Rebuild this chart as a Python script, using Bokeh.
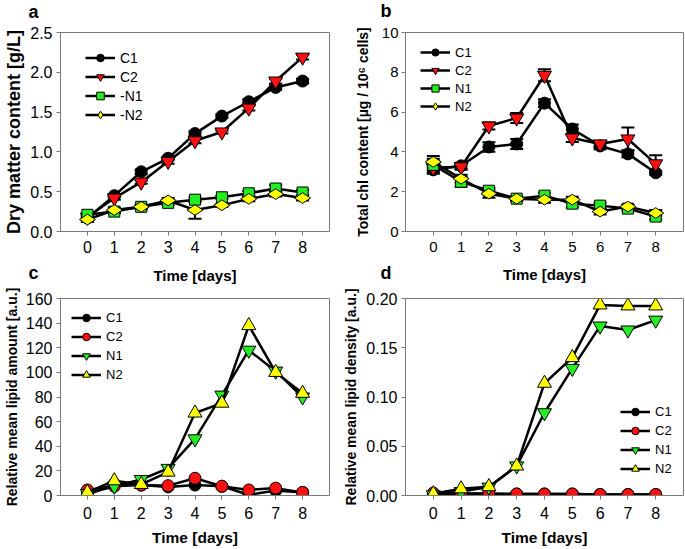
from bokeh.plotting import figure
from bokeh.layouts import gridplot
from bokeh.models import (ColumnDataSource, Whisker, TeeHead, Legend, LegendItem,
                          Label, Range1d, FixedTicker, NumeralTickFormatter)
from bokeh.embed import file_html
from bokeh.resources import INLINE
import math

FONT = "Liberation Sans"

days = [0, 1, 2, 3, 4, 5, 6, 7, 8]

# Panel a: dry matter content [g/L]
a_C1 = [0.17, 0.45, 0.75, 0.92, 1.23, 1.45, 1.63, 1.81, 1.89]
a_C1_err = [0.03, 0.02, 0.03, 0.02, 0.03, 0.02, 0.03, 0.03, 0.03]
a_C2 = [0.18, 0.42, 0.62, 0.88, 1.14, 1.25, 1.55, 1.89, 2.19]
a_C2_err = [0.02, 0.02, 0.02, 0.03, 0.03, 0.02, 0.03, 0.03, 0.03]
a_N1 = [0.21, 0.25, 0.31, 0.36, 0.40, 0.43, 0.48, 0.54, 0.49]
a_N1_err = [0.02, 0.02, 0.02, 0.03, 0.03, 0.02, 0.03, 0.04, 0.03]
a_N2 = [0.15, 0.27, 0.31, 0.39, 0.27, 0.33, 0.41, 0.47, 0.42]
a_N2_err = [0.03, 0.03, 0.03, 0.03, 0.11, 0.02, 0.03, 0.03, 0.03]

# Panel b: total chl content
b_C1 = [3.1, 3.3, 4.25, 4.4, 6.45, 5.15, 4.3, 3.9, 2.95]
b_C1_err = [0.2, 0.15, 0.24, 0.25, 0.19, 0.23, 0.17, 0.17, 0.1]
b_C2 = [3.2, 3.25, 5.3, 5.7, 7.85, 4.7, 4.4, 4.65, 3.4]
b_C2_err = [0.25, 0.15, 0.18, 0.25, 0.3, 0.2, 0.15, 0.57, 0.43]
b_N1 = [3.35, 2.5, 2.05, 1.65, 1.8, 1.4, 1.3, 1.15, 0.75]
b_N1_err = [0.3, 0.25, 0.15, 0.1, 0.15, 0.2, 0.15, 0.1, 0.15]
b_N2 = [3.5, 2.65, 1.9, 1.65, 1.6, 1.6, 1.0, 1.25, 0.93]
b_N2_err = [0.3, 0.2, 0.2, 0.1, 0.15, 0.15, 0.15, 0.1, 0.15]

# Panel c: relative mean lipid amount
c_C1 = [0.5, 9.5, 8.5, 7.0, 8.5, 7.5, 0.5, 4.0, 2.5]
c_C2 = [4.5, 7.5, 8.5, 8.0, 14.0, 7.5, 4.5, 6.0, 2.5]
c_N1 = [1.5, 7.5, 13.0, 22.0, 46.0, 81.5, 118.0, 101.0, 80.0]
c_N2 = [2.5, 12.0, 9.0, 19.0, 67.0, 75.0, 138.0, 100.0, 83.0]

# Panel d: relative mean lipid density
d_C1 = [0.0005, 0.002, 0.002, 0.0015, 0.0015, 0.0015, 0.001, 0.001, 0.001]
d_C2 = [0.0025, 0.002, 0.0018, 0.0015, 0.0015, 0.0015, 0.001, 0.001, 0.001]
d_N1 = [0.0007, 0.004, 0.0085, 0.030, 0.084, 0.129, 0.172, 0.168, 0.178]
d_N2 = [0.0017, 0.0068, 0.009, 0.030, 0.114, 0.140, 0.1935, 0.1925, 0.1925]

a_ticks = [0.0, 0.5, 1.0, 1.5, 2.0, 2.5]
b_ticks = [0, 2, 4, 6, 8, 10]
c_ticks = [0, 20, 40, 60, 80, 100, 120, 140, 160]
d_ticks = [0.0, 0.05, 0.10, 0.15, 0.20]

RED = "#ff1010"
GREEN = "#22ee22"
YELLOW = "#ffff00"

LEFT_W, RIGHT_W = 340, 344
TOP_H, BOT_H = 286, 262


def make_fig(width, height, mbl, mbr, mbt, mbb, y_end, ticks, fmt, ylabel,
             tick_fs, ylab_fs, xlab_fs, ylab_standoff, tick_standoff_y,
             xtick_standoff, xlab_standoff):
    p = figure(width=width, height=height, output_backend="svg", toolbar_location=None,
               x_range=Range1d(-1, 9), y_range=Range1d(0, y_end),
               min_border_left=mbl, min_border_right=mbr,
               min_border_top=mbt, min_border_bottom=mbb)
    p.title.visible = False
    p.xgrid.visible = False
    p.ygrid.visible = False
    p.outline_line_color = "#7a7a7a"
    p.outline_line_width = 1
    for ax in (p.xaxis[0], p.yaxis[0]):
        ax.axis_line_color = "#7a7a7a"
        ax.major_tick_line_color = "#7a7a7a"
        ax.major_tick_in = 0
        ax.major_tick_out = 4
        ax.minor_tick_line_color = None
        ax.major_label_text_font = FONT
        ax.major_label_text_color = "black"
        ax.major_label_text_font_size = tick_fs
        ax.axis_label_text_font = FONT
        ax.axis_label_text_font_style = "bold"
        ax.axis_label_text_color = "black"
    p.xaxis.ticker = FixedTicker(ticks=days)
    p.xaxis.axis_label = "Time [days]"
    p.xaxis.axis_label_text_font_size = xlab_fs
    p.xaxis.major_label_standoff = xtick_standoff
    p.xaxis.axis_label_standoff = xlab_standoff
    p.yaxis.ticker = FixedTicker(ticks=ticks)
    p.yaxis.formatter = NumeralTickFormatter(format=fmt)
    p.yaxis.axis_label = ylabel
    p.yaxis.axis_label_text_font_size = ylab_fs
    p.yaxis.major_label_standoff = tick_standoff_y
    p.yaxis.axis_label_standoff = ylab_standoff
    return p


def add_series(p, y, err, marker, color, size, angle=0.0):
    data = dict(x=days, y=y)
    if err is not None:
        data["lo"] = [v - e for v, e in zip(y, err)]
        data["hi"] = [v + e for v, e in zip(y, err)]
    src = ColumnDataSource(data)
    if err is not None:
        w = Whisker(source=src, base="x", lower="lo", upper="hi", dimension="height",
                    line_color="black", line_width=2, level="underlay",
                    upper_head=TeeHead(size=13, line_color="black", line_width=2),
                    lower_head=TeeHead(size=13, line_color="black", line_width=2))
        p.add_layout(w)
    ln = p.line("x", "y", source=src, line_color="black", line_width=2.5)
    sc = p.scatter("x", "y", source=src, marker=marker, size=size, angle=angle,
                   fill_color=color, line_color="black", line_width=1)
    return [ln, sc]


def add_legend(p, items, vx, vy, gh, fs):
    lg = Legend(items=[LegendItem(label=t, renderers=r) for t, r in items],
                location=(vx, vy), orientation="vertical")
    lg.glyph_width = 30
    lg.glyph_height = gh
    lg.spacing = 0
    lg.padding = 0
    lg.margin = 0
    lg.label_standoff = 5
    lg.label_height = gh - 1
    lg.border_line_color = None
    lg.background_fill_alpha = 0
    lg.label_text_font = FONT
    lg.label_text_font_size = fs
    lg.label_text_color = "black"
    p.add_layout(lg)


def letter(p, txt, x, y, side):
    p.add_layout(Label(x=x, y=y, x_units="screen", y_units="screen", text=txt,
                       text_font=FONT, text_font_style="bold", text_font_size="18px",
                       text_color="black", text_baseline="alphabetic", text_align="left"),
                 side)


ROT = math.pi / 2

# ---- panel a
pa = make_fig(LEFT_W, TOP_H, 57, 11, 32, 55, 2.5, a_ticks, "0.0",
              "Dry matter content [g/L]", "16px", "18px", "15px", 3, 4, 5, 11)
ra1 = add_series(pa, a_C1, a_C1_err, "circle", "black", 12)
ra2 = add_series(pa, a_C2, a_C2_err, "inverted_triangle", RED, 14)
ra3 = add_series(pa, a_N1, a_N1_err, "square", GREEN, 11)
ra4 = add_series(pa, a_N2, a_N2_err, "diamond", YELLOW, 16, ROT)
add_legend(pa, [("C1", ra1), ("C2", ra2), ("-N1", ra3), ("-N2", ra4)], 25, 107, 19, "14px")
letter(pa, "a", -32, 21, "above")
letter(pa, "c", -301, -41, "right")

# ---- panel b
pb = make_fig(RIGHT_W, TOP_H, 65, 1, 32, 55, 10, b_ticks, "0",
              "Total chl content [µg / 10⁶ cells]", "15px", "14px", "15px", 8, 3, 6, 11)
rb1 = add_series(pb, b_C1, b_C1_err, "circle", "black", 12)
rb2 = add_series(pb, b_C2, b_C2_err, "inverted_triangle", RED, 14)
rb3 = add_series(pb, b_N1, b_N1_err, "square", GREEN, 11)
rb4 = add_series(pb, b_N2, b_N2_err, "diamond", YELLOW, 16, ROT)
add_legend(pb, [("C1", rb1), ("C2", rb2), ("N1", rb3), ("N2", rb4)], 15, 116, 18, "13px")
letter(pb, "b", -25, 22, "above")
letter(pb, "d", 40, -41, "left")

# ---- panel c
pc = make_fig(LEFT_W, BOT_H, 57, 6, 12, 53, 160, c_ticks, "0",
              "Relative mean lipid amount [a.u.]", "16px", "14px", "15.5px", 3, 4, 7, 7)
rc1 = add_series(pc, c_C1, None, "circle", "black", 12)
rc2 = add_series(pc, c_C2, None, "circle", RED, 12)
rc3 = add_series(pc, c_N1, None, "inverted_triangle", GREEN, 14)
rc4 = add_series(pc, c_N2, None, "triangle", YELLOW, 14)
add_legend(pc, [("C1", rc1), ("C2", rc2), ("N1", rc3), ("N2", rc4)], 11, 111, 19, "13px")

# ---- panel d
pd = make_fig(RIGHT_W, BOT_H, 65, 1, 12, 53, 0.2, d_ticks, "0.00",
              "Relative mean lipid density [a.u.]", "16px", "14px", "15.5px", 4, 4, 7, 7)
rd1 = add_series(pd, d_C1, None, "circle", "black", 12)
rd2 = add_series(pd, d_C2, None, "circle", RED, 12)
rd3 = add_series(pd, d_N1, None, "inverted_triangle", GREEN, 14)
rd4 = add_series(pd, d_N2, None, "triangle", YELLOW, 14)
add_legend(pd, [("C1", rd1), ("C2", rd2), ("N1", rd3), ("N2", rd4)], 215, 17, 19, "13px")

grid = gridplot([[pa, pb], [pc, pd]], toolbar_location=None)

open("out.html", "w").write(file_html(grid, INLINE))
